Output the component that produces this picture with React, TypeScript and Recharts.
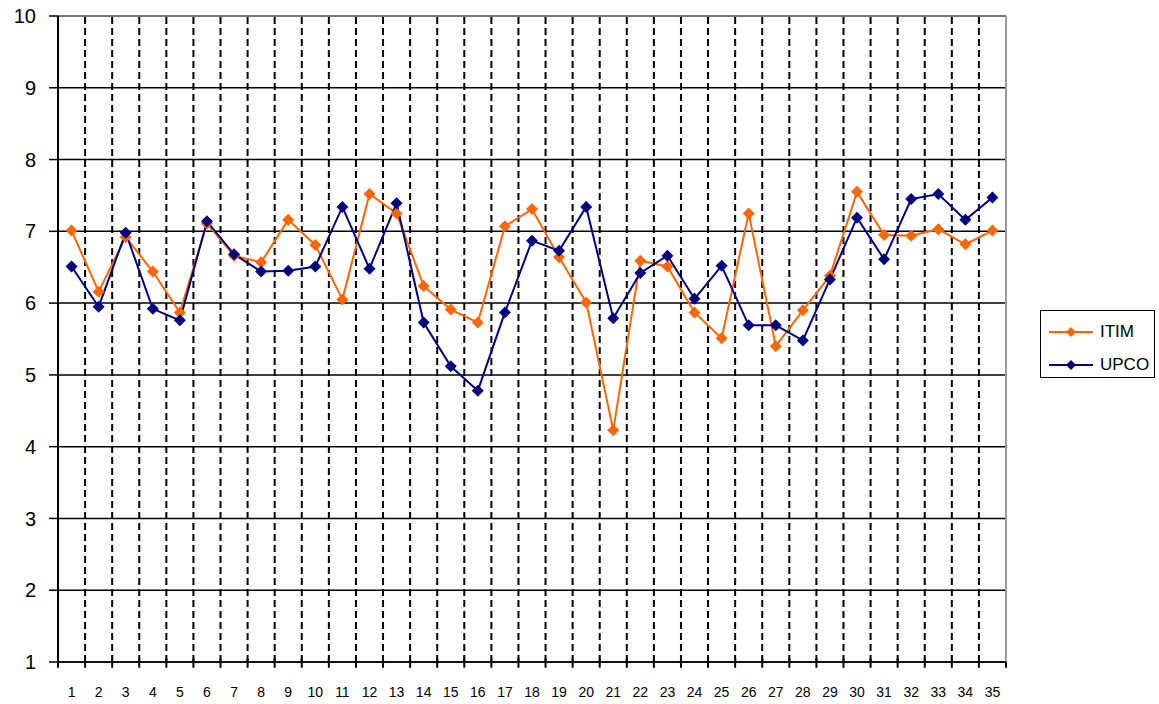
import React from "react";
import {
  LineChart,
  Line,
  XAxis,
  YAxis,
  CartesianGrid,
  ReferenceLine,
  Legend,
} from "recharts";

const categories = Array.from({ length: 35 }, (_, i) => i + 1);
const itim = [
  7.01, 6.16, 6.92, 6.44, 5.87, 7.11, 6.66, 6.57, 7.16, 6.81,
  6.05, 7.52, 7.25, 6.24, 5.91, 5.73, 7.07, 7.31, 6.64, 6.01,
  4.23, 6.59, 6.51, 5.87, 5.51, 7.25, 5.4, 5.9, 6.38, 7.55,
  6.95, 6.94, 7.03, 6.82, 7.01,
];
const upco = [
  6.51, 5.95, 6.98, 5.92, 5.76, 7.14, 6.68, 6.44, 6.45, 6.51,
  7.34, 6.48, 7.39, 5.73, 5.12, 4.78, 5.87, 6.87, 6.73, 7.34,
  5.79, 6.42, 6.66, 6.06, 6.52, 5.69, 5.69, 5.48, 6.33, 7.19,
  6.61, 7.45, 7.52, 7.16, 7.47,
];
const yTicks = [1, 2, 3, 4, 5, 6, 7, 8, 9, 10];
const seriesNames = ["ITIM", "UPCO"];
const seriesColors = ["#FF6600", "#000080"];

const data = categories.map((c, i) => ({ x: c, ITIM: itim[i], UPCO: upco[i] }));
const boundaries = Array.from({ length: 36 }, (_, i) => i + 0.5);

const Diamond = (color: string) => (props: any) => {
  const { cx, cy, index } = props;
  if (cx == null || cy == null) return <g key={index} />;
  const r = 6;
  return (
    <polygon
      key={index}
      points={`${cx},${cy - r} ${cx + r},${cy} ${cx},${cy + r} ${cx - r},${cy}`}
      fill={color}
      stroke="none"
    />
  );
};

const LegendContent = () => (
  <div
    style={{
      border: "1.5px solid #000",
      width: 115,
      height: 68,
      boxSizing: "border-box",
      background: "#fff",
      paddingTop: 4,
    }}
  >
    {seriesNames.map((n, i) => (
      <div key={n} style={{ display: "flex", alignItems: "center", height: 33 }}>
        <svg width={58} height={14} style={{ display: "block" }}>
          <line x1={8} y1={7} x2={52} y2={7} stroke={seriesColors[i]} strokeWidth={2} />
          <polygon points="30,2 35,7 30,12 25,7" fill={seriesColors[i]} />
        </svg>
        <span style={{ fontSize: 17, color: "#000", marginLeft: 1 }}>{n}</span>
      </div>
    ))}
  </div>
);

export default function App() {
  return (
    <div
      style={{
        position: "absolute",
        left: 0,
        top: 0,
        width: 1159,
        height: 704,
        background: "#fff",
        fontFamily: "'Liberation Sans', Arial, sans-serif",
      }}
    >
      <LineChart
        width={1159}
        height={704}
        data={data}
        margin={{ top: 16, right: 153, left: 0, bottom: 0 }}
      >
        <CartesianGrid vertical={false} stroke="#000" strokeWidth={1.5} />
        {boundaries.slice(1, 35).map((b) => (
          <ReferenceLine
            key={"v" + b}
            x={b}
            stroke="#000"
            strokeWidth={2}
            strokeDasharray="7 4"
          />
        ))}
        {boundaries.map((b) => (
          <ReferenceLine
            key={"t" + b}
            segment={[
              { x: b, y: 1.05 },
              { x: b, y: 0.92 },
            ]}
            stroke="#000"
            strokeWidth={2}
            ifOverflow="visible"
          />
        ))}
        <ReferenceLine y={10} stroke="#888" strokeWidth={1.5} />
        <ReferenceLine x={35.5} stroke="#999" strokeWidth={2} />
        <XAxis
          dataKey="x"
          type="number"
          domain={[0.5, 35.5]}
          ticks={categories}
          interval={0}
          axisLine={{ stroke: "#000", strokeWidth: 1.5 }}
          tickLine={false}
          tickSize={0}
          tickMargin={25}
          height={42}
          tick={{ fill: "#000", fontSize: 14 }}
          allowDataOverflow
        />
        <YAxis
          type="number"
          domain={[1, 10]}
          ticks={yTicks}
          interval={0}
          width={58}
          axisLine={{ stroke: "#000", strokeWidth: 2 }}
          tickLine={{ stroke: "#000", strokeWidth: 1.5 }}
          tickSize={9}
          tickMargin={13}
          tick={{ fill: "#000", fontSize: 20 }}
        />
        <Legend
          layout="horizontal"
          align="center"
          verticalAlign="middle"
          width={116}
          height={70}
          wrapperStyle={{ left: 1040, top: 310, width: 116, height: 70 }}
          content={LegendContent}
        />
        <Line
          type="linear"
          dataKey="ITIM"
          stroke={seriesColors[0]}
          strokeWidth={2}
          dot={Diamond(seriesColors[0])}
          activeDot={false}
          isAnimationActive={false}
        />
        <Line
          type="linear"
          dataKey="UPCO"
          stroke={seriesColors[1]}
          strokeWidth={2}
          dot={Diamond(seriesColors[1])}
          activeDot={false}
          isAnimationActive={false}
        />
      </LineChart>
    </div>
  );
}
